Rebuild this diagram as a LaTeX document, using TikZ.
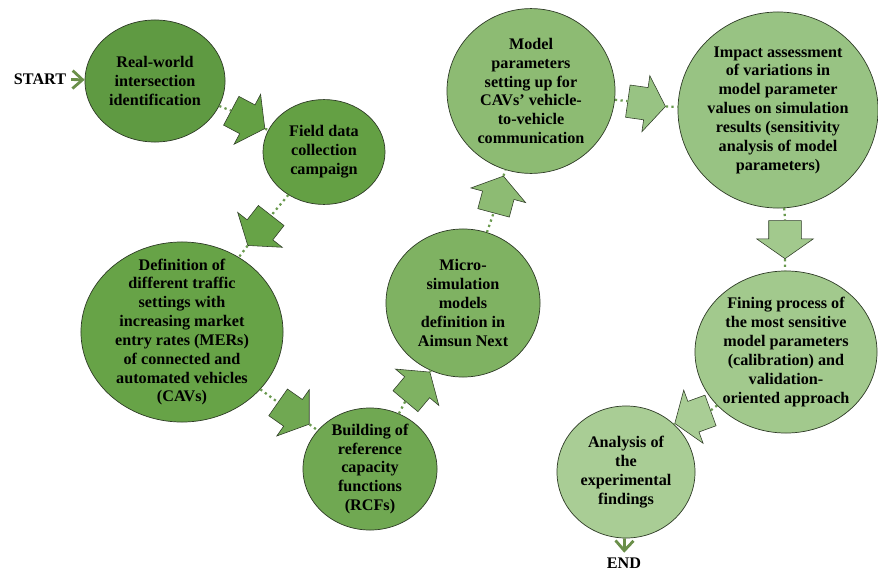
\documentclass[tikz,border=0pt]{standalone}
\usepackage{fontspec}
\setmainfont{Liberation Serif}
\usetikzlibrary{shapes.geometric, shapes.arrows, arrows.meta}
\definecolor{gA}{HTML}{5F9A42}
\definecolor{gB}{HTML}{64A044}
\definecolor{gC}{HTML}{67A347}
\definecolor{gD}{HTML}{70A852}
\definecolor{gE}{HTML}{7FB262}
\definecolor{gF}{HTML}{8DBB73}
\definecolor{gG}{HTML}{98C383}
\definecolor{gH}{HTML}{A2C98D}
\definecolor{gI}{HTML}{A9CD95}
\definecolor{dotgreen}{HTML}{6A9A4F}
\definecolor{flowgreen}{HTML}{6A8F4A}
\definecolor{rim}{HTML}{2E3B26}
\tikzstyle{stage} = [ellipse, draw = rim, line width = 0.5pt, inner sep = 0pt]
\tikzstyle{words} = [align = center, font = \bfseries\fontsize{11.5}{13.4}\selectfont, inner sep = 0pt]
\tikzstyle{blockarrow} = [single arrow, draw = rim, line width = 0.4pt, minimum height = 0.95cm, inner xsep = 0pt, inner ysep = 0.4cm, single arrow head extend = 0.3cm, single arrow tip angle = 110]
\tikzstyle{link} = [dotgreen, line width = 1.6pt, dash pattern = on 1.6pt off 2.4pt]
\tikzstyle{flow} = [flowgreen, line width = 2pt, -{Straight Barb[length = 2.5mm, width = 4.5mm]}]

\begin{document}
\begin{tikzpicture}[x = 0.025cm, y = -0.025cm]
\useasboundingbox (0,0) rectangle (878,572);
% stages
\node (c1) [stage, fill = gA, minimum width = 3.5cm, minimum height = 3.05cm, label = {[words]center:Real-world\\intersection\\identification}] at (155,81) {};
\node (c2) [stage, fill = gB, minimum width = 3.05cm, minimum height = 2.62cm, label = {[words]center:Field data\\collection\\campaign}] at (324,152) {};
\node (c3) [stage, fill = gC, minimum width = 5.05cm, minimum height = 4.5cm, label = {[words]center:Definition of\\different traffic\\settings with\\increasing market\\entry rates (MERs)\\of connected and\\automated vehicles\\(CAVs)}] at (182,332) {};
\node (c4) [stage, fill = gD, minimum width = 3.35cm, minimum height = 3.05cm, label = {[words]center:Building of\\reference\\capacity\\functions\\(RCFs)}] at (370,469) {};
\node (c5) [stage, fill = gE, minimum width = 3.85cm, minimum height = 3.7cm, label = {[words]center:Micro-\\simulation\\models\\definition in\\Aimsun Next}] at (463,303) {};
\node (c6) [stage, fill = gF, minimum width = 4.2cm, minimum height = 4.12cm, label = {[words]center:Model\\parameters\\setting up for\\CAVs' vehicle-\\to-vehicle\\communication}] at (531,91) {};
\node (c7) [stage, fill = gG, minimum width = 5cm, minimum height = 4.9cm, label = {[words]center:Impact assessment\\of variations in\\model parameter\\values on simulation\\results (sensitivity\\analysis of model\\parameters)}] at (778,110) {};
\node (c8) [stage, fill = gH, minimum width = 4.55cm, minimum height = 4.05cm, label = {[words]center:Fining process of\\the most sensitive\\model parameters\\(calibration) and\\validation-\\oriented approach}] at (786,352) {};
\node (c9) [stage, fill = gI, minimum width = 3.45cm, minimum height = 3.3cm, label = {[words]center:Analysis of\\the\\experimental\\findings}] at (626,472) {};
% block arrows
\node (a1) [blockarrow, fill = gB, rotate = -28] at (243,117) {};
\node (a2) [blockarrow, fill = gC, rotate = -128] at (263,226) {};
\node (a3) [blockarrow, fill = gD, rotate = -35] at (289,410) {};
\node (a4) [blockarrow, fill = gE, rotate = 50] at (414,391) {};
\node (a5) [blockarrow, fill = gF, rotate = 75] at (497,200) {};
\node (a6) [blockarrow, fill = gG, rotate = -8] at (641,103) {};
\node (a7) [blockarrow, fill = gH, rotate = -90] at (785,234) {};
\node (a8) [blockarrow, fill = gI, rotate = 200] at (698,415) {};
% start and end
\node (start) [font = \bfseries\fontsize{11.5}{13.4}\selectfont] at (40,79) {START};
\node (end) [font = \bfseries\fontsize{11.5}{13.4}\selectfont] at (624,563) {END};
\draw [flow] (start) -- (c1);
\draw [flow] (c9) -- (end);
\draw [link] (c1) -- (a1.tail);
\draw [link] (a1.tip) -- (c2);
\draw [link] (c2) -- (a2.tail);
\draw [link] (a2.tip) -- (c3);
\draw [link] (c3) -- (a3.tail);
\draw [link] (a3.tip) -- (c4);
\draw [link] (c4) -- (a4.tail);
\draw [link] (a4.tip) -- (c5);
\draw [link] (c5) -- (a5.tail);
\draw [link] (a5.tip) -- (c6);
\draw [link] (c6) -- (a6.tail);
\draw [link] (a6.tip) -- (c7);
\draw [link] (c7) -- (a7.tail);
\draw [link] (a7.tip) -- (c8);
\draw [link] (c8) -- (a8.tail);
\draw [link] (a8.tip) -- (c9);
\end{tikzpicture}
\end{document}
